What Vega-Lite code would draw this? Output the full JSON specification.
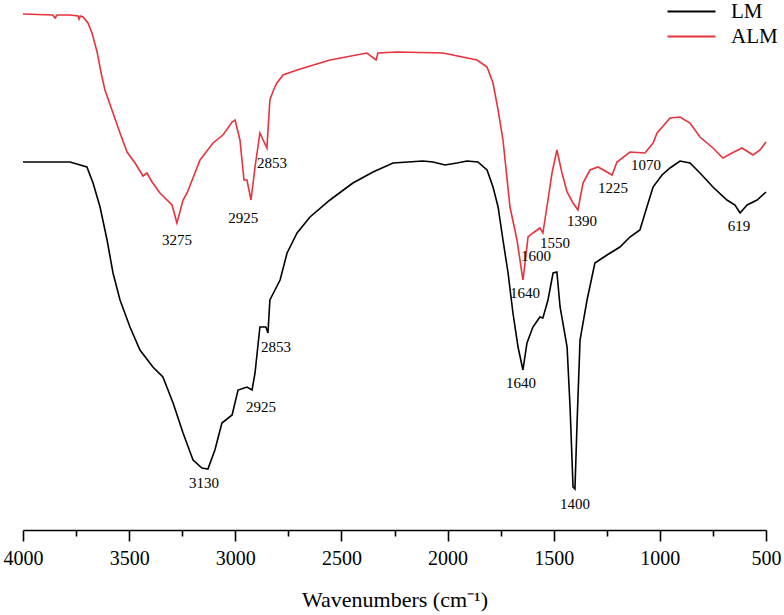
{
  "$schema": "https://vega.github.io/schema/vega-lite/v6.json",
  "width": 743,
  "height": 530,
  "autosize": "none",
  "padding": {"left": 23, "top": 0, "right": 18, "bottom": 85},
  "background": "white",
  "config": {"view": {"stroke": null}, "font": "Liberation Serif"},
  "datasets": {
    "spectra": [
      {"wn": 4000, "T": 516, "s": "ALM"}, {"wn": 3860, "T": 515, "s": "ALM"}, {"wn": 3849, "T": 512, "s": "ALM"}, {"wn": 3840, "T": 515, "s": "ALM"},
      {"wn": 3779, "T": 515, "s": "ALM"}, {"wn": 3740, "T": 514, "s": "ALM"}, {"wn": 3736, "T": 511, "s": "ALM"}, {"wn": 3730, "T": 514, "s": "ALM"},
      {"wn": 3717, "T": 513, "s": "ALM"}, {"wn": 3694, "T": 507, "s": "ALM"}, {"wn": 3675, "T": 497, "s": "ALM"}, {"wn": 3651, "T": 478, "s": "ALM"},
      {"wn": 3630, "T": 455, "s": "ALM"}, {"wn": 3614, "T": 440, "s": "ALM"},
      {"wn": 3576, "T": 417, "s": "ALM"}, {"wn": 3543, "T": 397, "s": "ALM"}, {"wn": 3510, "T": 378, "s": "ALM"}, {"wn": 3472, "T": 367, "s": "ALM"},
      {"wn": 3435, "T": 354, "s": "ALM"}, {"wn": 3416, "T": 357, "s": "ALM"}, {"wn": 3392, "T": 348, "s": "ALM"}, {"wn": 3355, "T": 337, "s": "ALM"},
      {"wn": 3298, "T": 325, "s": "ALM"}, {"wn": 3275, "T": 307, "s": "ALM"}, {"wn": 3246, "T": 330, "s": "ALM"}, {"wn": 3227, "T": 337, "s": "ALM"},
      {"wn": 3166, "T": 370, "s": "ALM"}, {"wn": 3105, "T": 387, "s": "ALM"}, {"wn": 3058, "T": 395, "s": "ALM"}, {"wn": 3015, "T": 408, "s": "ALM"}, {"wn": 3001, "T": 410, "s": "ALM"},
      {"wn": 2978, "T": 390, "s": "ALM"}, {"wn": 2959, "T": 350, "s": "ALM"}, {"wn": 2945, "T": 350, "s": "ALM"}, {"wn": 2926, "T": 330, "s": "ALM"},
      {"wn": 2907, "T": 363, "s": "ALM"}, {"wn": 2884, "T": 397, "s": "ALM"}, {"wn": 2869, "T": 390, "s": "ALM"}, {"wn": 2851, "T": 382, "s": "ALM"},
      {"wn": 2837, "T": 430, "s": "ALM"}, {"wn": 2818, "T": 441, "s": "ALM"}, {"wn": 2804, "T": 447, "s": "ALM"}, {"wn": 2775, "T": 455, "s": "ALM"}, {"wn": 2709, "T": 460, "s": "ALM"},
      {"wn": 2554, "T": 470, "s": "ALM"}, {"wn": 2380, "T": 477, "s": "ALM"}, {"wn": 2337, "T": 470, "s": "ALM"}, {"wn": 2328, "T": 477, "s": "ALM"},
      {"wn": 2238, "T": 478, "s": "ALM"}, {"wn": 2022, "T": 477, "s": "ALM"}, {"wn": 1861, "T": 470, "s": "ALM"}, {"wn": 1814, "T": 463, "s": "ALM"},
      {"wn": 1786, "T": 447, "s": "ALM"}, {"wn": 1762, "T": 420, "s": "ALM"}, {"wn": 1739, "T": 390, "s": "ALM"}, {"wn": 1706, "T": 323, "s": "ALM"},
      {"wn": 1673, "T": 290, "s": "ALM"}, {"wn": 1645, "T": 250, "s": "ALM"}, {"wn": 1635, "T": 267, "s": "ALM"}, {"wn": 1621, "T": 293, "s": "ALM"},
      {"wn": 1598, "T": 297, "s": "ALM"}, {"wn": 1565, "T": 302, "s": "ALM"}, {"wn": 1551, "T": 297, "s": "ALM"}, {"wn": 1527, "T": 330, "s": "ALM"},
      {"wn": 1508, "T": 357, "s": "ALM"}, {"wn": 1485, "T": 380, "s": "ALM"}, {"wn": 1461, "T": 357, "s": "ALM"}, {"wn": 1437, "T": 338, "s": "ALM"},
      {"wn": 1409, "T": 327, "s": "ALM"}, {"wn": 1386, "T": 320, "s": "ALM"}, {"wn": 1362, "T": 347, "s": "ALM"}, {"wn": 1329, "T": 360, "s": "ALM"},
      {"wn": 1291, "T": 363, "s": "ALM"}, {"wn": 1225, "T": 355, "s": "ALM"}, {"wn": 1202, "T": 368, "s": "ALM"}, {"wn": 1141, "T": 378, "s": "ALM"},
      {"wn": 1070, "T": 377, "s": "ALM"}, {"wn": 1032, "T": 387, "s": "ALM"}, {"wn": 1013, "T": 397, "s": "ALM"}, {"wn": 952, "T": 412, "s": "ALM"},
      {"wn": 905, "T": 413, "s": "ALM"}, {"wn": 858, "T": 407, "s": "ALM"}, {"wn": 811, "T": 393, "s": "ALM"}, {"wn": 750, "T": 382, "s": "ALM"},
      {"wn": 703, "T": 372, "s": "ALM"}, {"wn": 660, "T": 377, "s": "ALM"}, {"wn": 613, "T": 382, "s": "ALM"}, {"wn": 561, "T": 375, "s": "ALM"},
      {"wn": 528, "T": 380, "s": "ALM"}, {"wn": 500, "T": 388, "s": "ALM"},

      {"wn": 4000, "T": 368, "s": "LM"}, {"wn": 3779, "T": 368, "s": "LM"}, {"wn": 3699, "T": 363, "s": "LM"}, {"wn": 3670, "T": 347, "s": "LM"},
      {"wn": 3637, "T": 323, "s": "LM"}, {"wn": 3604, "T": 290, "s": "LM"}, {"wn": 3576, "T": 257, "s": "LM"}, {"wn": 3543, "T": 230, "s": "LM"},
      {"wn": 3496, "T": 203, "s": "LM"}, {"wn": 3449, "T": 180, "s": "LM"}, {"wn": 3388, "T": 163, "s": "LM"}, {"wn": 3341, "T": 153, "s": "LM"},
      {"wn": 3293, "T": 127, "s": "LM"}, {"wn": 3246, "T": 97, "s": "LM"}, {"wn": 3199, "T": 70, "s": "LM"}, {"wn": 3157, "T": 62, "s": "LM"},
      {"wn": 3129, "T": 61, "s": "LM"}, {"wn": 3096, "T": 80, "s": "LM"}, {"wn": 3063, "T": 107, "s": "LM"}, {"wn": 3015, "T": 115, "s": "LM"},
      {"wn": 2987, "T": 140, "s": "LM"}, {"wn": 2945, "T": 143, "s": "LM"}, {"wn": 2921, "T": 140, "s": "LM"}, {"wn": 2907, "T": 157, "s": "LM"},
      {"wn": 2884, "T": 203, "s": "LM"}, {"wn": 2856, "T": 203, "s": "LM"}, {"wn": 2846, "T": 197, "s": "LM"}, {"wn": 2837, "T": 230, "s": "LM"},
      {"wn": 2813, "T": 240, "s": "LM"}, {"wn": 2789, "T": 250, "s": "LM"}, {"wn": 2756, "T": 277, "s": "LM"}, {"wn": 2709, "T": 297, "s": "LM"},
      {"wn": 2648, "T": 313, "s": "LM"}, {"wn": 2554, "T": 330, "s": "LM"}, {"wn": 2446, "T": 347, "s": "LM"}, {"wn": 2351, "T": 358, "s": "LM"},
      {"wn": 2257, "T": 367, "s": "LM"}, {"wn": 2116, "T": 369, "s": "LM"}, {"wn": 2069, "T": 368, "s": "LM"}, {"wn": 2012, "T": 365, "s": "LM"},
      {"wn": 1956, "T": 367, "s": "LM"}, {"wn": 1908, "T": 369, "s": "LM"}, {"wn": 1857, "T": 368, "s": "LM"}, {"wn": 1814, "T": 360, "s": "LM"},
      {"wn": 1786, "T": 343, "s": "LM"}, {"wn": 1762, "T": 323, "s": "LM"}, {"wn": 1739, "T": 290, "s": "LM"}, {"wn": 1715, "T": 257, "s": "LM"},
      {"wn": 1692, "T": 217, "s": "LM"}, {"wn": 1668, "T": 183, "s": "LM"}, {"wn": 1645, "T": 160, "s": "LM"}, {"wn": 1626, "T": 187, "s": "LM"},
      {"wn": 1598, "T": 203, "s": "LM"}, {"wn": 1565, "T": 213, "s": "LM"}, {"wn": 1551, "T": 212, "s": "LM"}, {"wn": 1527, "T": 230, "s": "LM"},
      {"wn": 1503, "T": 257, "s": "LM"}, {"wn": 1485, "T": 258, "s": "LM"}, {"wn": 1470, "T": 223, "s": "LM"}, {"wn": 1437, "T": 183, "s": "LM"},
      {"wn": 1423, "T": 123, "s": "LM"}, {"wn": 1409, "T": 43, "s": "LM"}, {"wn": 1400, "T": 41, "s": "LM"}, {"wn": 1390, "T": 107, "s": "LM"},
      {"wn": 1376, "T": 190, "s": "LM"}, {"wn": 1343, "T": 230, "s": "LM"}, {"wn": 1306, "T": 267, "s": "LM"}, {"wn": 1249, "T": 275, "s": "LM"},
      {"wn": 1188, "T": 283, "s": "LM"}, {"wn": 1141, "T": 293, "s": "LM"}, {"wn": 1094, "T": 300, "s": "LM"}, {"wn": 1061, "T": 323, "s": "LM"},
      {"wn": 1032, "T": 343, "s": "LM"}, {"wn": 990, "T": 355, "s": "LM"}, {"wn": 952, "T": 362, "s": "LM"}, {"wn": 905, "T": 369, "s": "LM"},
      {"wn": 858, "T": 367, "s": "LM"}, {"wn": 811, "T": 357, "s": "LM"}, {"wn": 750, "T": 343, "s": "LM"}, {"wn": 684, "T": 330, "s": "LM"},
      {"wn": 646, "T": 325, "s": "LM"}, {"wn": 622, "T": 317, "s": "LM"}, {"wn": 589, "T": 325, "s": "LM"}, {"wn": 542, "T": 330, "s": "LM"},
      {"wn": 500, "T": 338, "s": "LM"}
    ],
    "labels": [
      {"wn": 3275, "T": 290, "text": "3275"},
      {"wn": 2963, "T": 312, "text": "2925"},
      {"wn": 2827, "T": 367, "text": "2853"},
      {"wn": 1635, "T": 237, "text": "1640"},
      {"wn": 1583, "T": 274, "text": "1600"},
      {"wn": 1494, "T": 287, "text": "1550"},
      {"wn": 1367, "T": 309, "text": "1390"},
      {"wn": 1221, "T": 342, "text": "1225"},
      {"wn": 1065, "T": 365, "text": "1070"},
      {"wn": 2808, "T": 183, "text": "2853"},
      {"wn": 2879, "T": 123, "text": "2925"},
      {"wn": 3147, "T": 47, "text": "3130"},
      {"wn": 1654, "T": 147, "text": "1640"},
      {"wn": 1400, "T": 26, "text": "1400"},
      {"wn": 627, "T": 304, "text": "619"}
    ]
  },
  "layer": [
    {
      "data": {"name": "spectra"},
      "mark": {"type": "line", "strokeWidth": 1.6, "interpolate": "linear"},
      "encoding": {
        "x": {
          "field": "wn", "type": "quantitative",
          "scale": {"domain": [500, 4000], "reverse": true, "nice": false, "zero": false},
          "axis": {
            "title": "Wavenumbers (cm⁻¹)",
            "values": [500, 750, 1000, 1250, 1500, 1750, 2000, 2250, 2500, 2750, 3000, 3250, 3500, 3750, 4000],
            "labelExpr": "datum.value % 500 === 0 ? datum.label : ''",
            "format": "d",
            "grid": false,
            "domainColor": "#000", "domainWidth": 1.6,
            "tickColor": "#000", "tickWidth": 1.6,
            "tickSize": {"condition": {"test": "datum.value % 500 === 0", "value": 11}, "value": 6},
            "labelFont": "Liberation Serif", "labelFontSize": 20, "labelColor": "#000",
            "labelPadding": 7, "labelFlush": false, "labelOverlap": false,
            "titleFont": "Liberation Serif", "titleFontSize": 22, "titleFontWeight": "normal", "titleColor": "#000",
            "titlePadding": 21
          }
        },
        "y": {
          "field": "T", "type": "quantitative",
          "scale": {"domain": [0, 530], "nice": false, "zero": false},
          "axis": null
        },
        "color": {
          "field": "s", "type": "nominal",
          "scale": {"domain": ["LM", "ALM"], "range": ["#000000", "#e8323c"]},
          "legend": {
            "title": null, "orient": "none", "legendX": 658, "legendY": 1,
            "symbolType": "M-4,0H4", "symbolSize": 144, "symbolStrokeWidth": 2,
            "labelFont": "Liberation Serif", "labelFontSize": 21, "labelColor": "#000",
            "labelOffset": 29, "rowPadding": 3
          }
        }
      }
    },
    {
      "data": {"name": "labels"},
      "mark": {"type": "text", "font": "Liberation Serif", "fontSize": 15, "color": "#000", "align": "center", "baseline": "middle"},
      "encoding": {
        "x": {"field": "wn", "type": "quantitative"},
        "y": {"field": "T", "type": "quantitative"},
        "text": {"field": "text"}
      }
    }
  ]
}
